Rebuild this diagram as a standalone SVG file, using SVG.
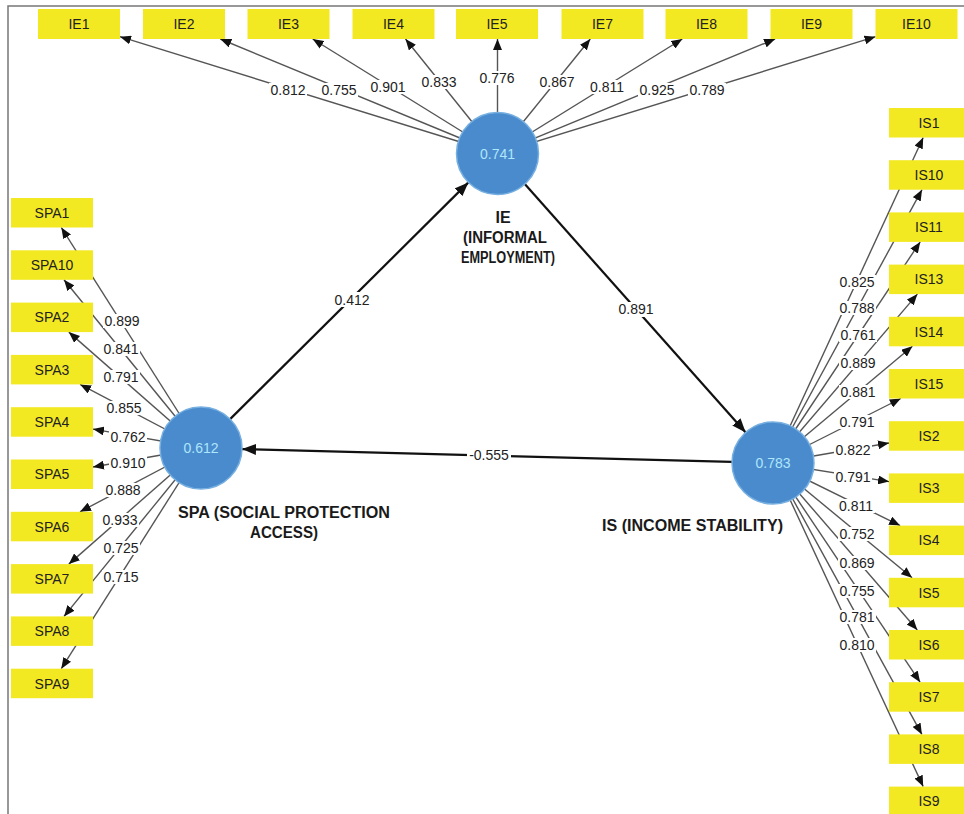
<svg xmlns="http://www.w3.org/2000/svg" width="964" height="814" viewBox="0 0 964 814">
<defs>
<marker id="ah" markerUnits="userSpaceOnUse" markerWidth="11" markerHeight="9" refX="11" refY="4.5" orient="auto"><path d="M0,0 L11,4.5 L0,9 z" fill="#111"/></marker>
<marker id="ahb" markerUnits="userSpaceOnUse" markerWidth="14" markerHeight="11" refX="14" refY="5.5" orient="auto"><path d="M0,0 L14,5.5 L0,11 z" fill="#111"/></marker>
<style>
.ld{stroke:#555;stroke-width:1.4;fill:none;marker-end:url(#ah)}
.st{stroke:#111;stroke-width:2.2;fill:none;marker-end:url(#ahb)}
.lb rect{fill:#fff}
.lb text,.bx text{font-family:"Liberation Sans",Arial,sans-serif;font-size:14px;fill:#222;text-anchor:middle}
.bx rect{fill:#f3e923}
.lv circle{fill:#4a8bcd;stroke:#76afe0;stroke-width:1.5}
.lv text.v{font-family:"Liberation Sans",Arial,sans-serif;font-size:14px;fill:#aee6fb;text-anchor:middle}
.lv text.n{font-family:"Liberation Sans",Arial,sans-serif;font-size:16px;font-weight:bold;fill:#1a1a1a;text-anchor:middle}
</style>
</defs>
<rect width="964" height="814" fill="#fff"/>
<path d="M8,814 L8,6 L964,6" fill="none" stroke="#777" stroke-width="1.5"/>

<g id="connectors">
<line class="ld" x1="497.5" y1="153.5" x2="120" y2="36.7"/>
<line class="ld" x1="497.5" y1="153.5" x2="220.3" y2="39"/>
<line class="ld" x1="497.5" y1="153.5" x2="312.7" y2="39"/>
<line class="ld" x1="497.5" y1="153.5" x2="405.5" y2="39"/>
<line class="ld" x1="497.5" y1="153.5" x2="497.5" y2="39"/>
<line class="ld" x1="497.5" y1="153.5" x2="590.3" y2="39"/>
<line class="ld" x1="497.5" y1="153.5" x2="682.3" y2="39"/>
<line class="ld" x1="497.5" y1="153.5" x2="775.1" y2="39"/>
<line class="ld" x1="497.5" y1="153.5" x2="875.5" y2="36.7"/>
<line class="ld" x1="201" y1="448" x2="61.3" y2="227.5"/>
<line class="ld" x1="201" y1="448" x2="64" y2="279.8"/>
<line class="ld" x1="201" y1="448" x2="68.8" y2="332.1"/>
<line class="ld" x1="201" y1="448" x2="80.1" y2="384.4"/>
<line class="ld" x1="201" y1="448" x2="93" y2="429.1"/>
<line class="ld" x1="201" y1="448" x2="93" y2="467"/>
<line class="ld" x1="201" y1="448" x2="80" y2="511.8"/>
<line class="ld" x1="201" y1="448" x2="68.8" y2="564.1"/>
<line class="ld" x1="201" y1="448" x2="64" y2="616.4"/>
<line class="ld" x1="201" y1="448" x2="61.3" y2="668.7"/>
<line class="ld" x1="773" y1="463" x2="923.2" y2="137.5"/>
<line class="ld" x1="773" y1="463" x2="922" y2="189.7"/>
<line class="ld" x1="773" y1="463" x2="920.2" y2="241.9"/>
<line class="ld" x1="773" y1="463" x2="917.4" y2="294.1"/>
<line class="ld" x1="773" y1="463" x2="912.4" y2="346.3"/>
<line class="ld" x1="773" y1="463" x2="900.8" y2="398.5"/>
<line class="ld" x1="773" y1="463" x2="889" y2="443"/>
<line class="ld" x1="773" y1="463" x2="889" y2="481.6"/>
<line class="ld" x1="773" y1="463" x2="900.1" y2="525.6"/>
<line class="ld" x1="773" y1="463" x2="912.1" y2="577.8"/>
<line class="ld" x1="773" y1="463" x2="917.3" y2="630"/>
<line class="ld" x1="773" y1="463" x2="920.1" y2="682.2"/>
<line class="ld" x1="773" y1="463" x2="921.9" y2="734.4"/>
<line class="ld" x1="773" y1="463" x2="923.2" y2="786.6"/>
<line class="st" x1="230.1" y1="419.1" x2="468.4" y2="182.4"/>
<line class="st" x1="524.8" y1="184.1" x2="745.7" y2="432.4"/>
<line class="st" x1="732" y1="461.9" x2="242" y2="449.1"/>

<g class="lb">
<rect x="269" y="83" width="38" height="14"/><text x="288" y="95">0.812</text>
<rect x="320" y="83" width="38" height="14"/><text x="339" y="95">0.755</text>
<rect x="369" y="80" width="38" height="14"/><text x="388" y="92">0.901</text>
<rect x="420" y="75" width="38" height="14"/><text x="439" y="87">0.833</text>
<rect x="478" y="71" width="38" height="14"/><text x="497" y="83">0.776</text>
<rect x="538" y="75" width="38" height="14"/><text x="557" y="87">0.867</text>
<rect x="588" y="80" width="38" height="14"/><text x="607" y="92">0.811</text>
<rect x="638" y="83" width="38" height="14"/><text x="657" y="95">0.925</text>
<rect x="688" y="83" width="38" height="14"/><text x="707" y="95">0.789</text>

<rect x="103" y="314" width="38" height="14"/><text x="122" y="326">0.899</text>
<rect x="102" y="342" width="38" height="14"/><text x="121" y="354">0.841</text>
<rect x="102" y="370" width="38" height="14"/><text x="121" y="382">0.791</text>
<rect x="105" y="401" width="38" height="14"/><text x="124" y="413">0.855</text>
<rect x="109" y="430" width="38" height="14"/><text x="128" y="442">0.762</text>
<rect x="109" y="456" width="38" height="14"/><text x="128" y="468">0.910</text>
<rect x="104" y="483" width="38" height="14"/><text x="123" y="495">0.888</text>
<rect x="101" y="513" width="38" height="14"/><text x="120" y="525">0.933</text>
<rect x="102" y="541" width="38" height="14"/><text x="121" y="553">0.725</text>
<rect x="102" y="570" width="38" height="14"/><text x="121" y="582">0.715</text>

<rect x="838" y="275" width="38" height="14"/><text x="857" y="287">0.825</text>
<rect x="838" y="301" width="38" height="14"/><text x="857" y="313">0.788</text>
<rect x="839" y="328" width="38" height="14"/><text x="858" y="340">0.761</text>
<rect x="839" y="356" width="38" height="14"/><text x="858" y="368">0.889</text>
<rect x="839" y="385" width="38" height="14"/><text x="858" y="397">0.881</text>
<rect x="838" y="415" width="38" height="14"/><text x="857" y="427">0.791</text>
<rect x="834" y="443" width="38" height="14"/><text x="853" y="455">0.822</text>
<rect x="834" y="470" width="38" height="14"/><text x="853" y="482">0.791</text>
<rect x="837" y="499" width="38" height="14"/><text x="856" y="511">0.811</text>
<rect x="838" y="527" width="38" height="14"/><text x="857" y="539">0.752</text>
<rect x="838" y="556" width="38" height="14"/><text x="857" y="568">0.869</text>
<rect x="838" y="584" width="38" height="14"/><text x="857" y="596">0.755</text>
<rect x="838" y="610" width="38" height="14"/><text x="857" y="622">0.781</text>
<rect x="838" y="638" width="38" height="14"/><text x="857" y="650">0.810</text>

<rect x="333" y="292" width="38" height="15"/><text x="352" y="305">0.412</text>
<rect x="617" y="302" width="38" height="15"/><text x="636" y="314">0.891</text>
<rect x="467" y="448" width="44" height="15"/><text x="489" y="460">-0.555</text>
</g>
</g>

<g id="IE1" class="bx"><rect x="38" y="9" width="82" height="30"/><text x="79" y="29">IE1</text></g>
<g id="IE2" class="bx"><rect x="143" y="9" width="82" height="30"/><text x="184" y="29">IE2</text></g>
<g id="IE3" class="bx"><rect x="247.5" y="9" width="82" height="30"/><text x="288.5" y="29">IE3</text></g>
<g id="IE4" class="bx"><rect x="352.5" y="9" width="82" height="30"/><text x="393.5" y="29">IE4</text></g>
<g id="IE5" class="bx"><rect x="456" y="9" width="82" height="30"/><text x="497" y="29">IE5</text></g>
<g id="IE7" class="bx"><rect x="561.5" y="9" width="82" height="30"/><text x="602.5" y="29">IE7</text></g>
<g id="IE8" class="bx"><rect x="665.5" y="9" width="82" height="30"/><text x="706.5" y="29">IE8</text></g>
<g id="IE9" class="bx"><rect x="770.5" y="9" width="82" height="30"/><text x="811.5" y="29">IE9</text></g>
<g id="IE10" class="bx"><rect x="875.5" y="9" width="82" height="30"/><text x="916.5" y="29">IE10</text></g>

<g id="SPA1" class="bx"><rect x="11" y="198" width="82" height="29.5"/><text x="52" y="217.8">SPA1</text></g>
<g id="SPA10" class="bx"><rect x="11" y="250.3" width="82" height="29.5"/><text x="52" y="270.1">SPA10</text></g>
<g id="SPA2" class="bx"><rect x="11" y="302.6" width="82" height="29.5"/><text x="52" y="322.4">SPA2</text></g>
<g id="SPA3" class="bx"><rect x="11" y="354.9" width="82" height="29.5"/><text x="52" y="374.7">SPA3</text></g>
<g id="SPA4" class="bx"><rect x="11" y="407.2" width="82" height="29.5"/><text x="52" y="427">SPA4</text></g>
<g id="SPA5" class="bx"><rect x="11" y="459.5" width="82" height="29.5"/><text x="52" y="479.3">SPA5</text></g>
<g id="SPA6" class="bx"><rect x="11" y="511.8" width="82" height="29.5"/><text x="52" y="531.6">SPA6</text></g>
<g id="SPA7" class="bx"><rect x="11" y="564.1" width="82" height="29.5"/><text x="52" y="583.9">SPA7</text></g>
<g id="SPA8" class="bx"><rect x="11" y="616.4" width="82" height="29.5"/><text x="52" y="636.2">SPA8</text></g>
<g id="SPA9" class="bx"><rect x="11" y="668.7" width="82" height="29.5"/><text x="52" y="688.5">SPA9</text></g>

<g id="IS1" class="bx"><rect x="889" y="108" width="82" height="29.5"/><text x="929" y="127.8">IS1</text></g>
<g id="IS10" class="bx"><rect x="889" y="160.2" width="82" height="29.5"/><text x="929" y="180">IS10</text></g>
<g id="IS11" class="bx"><rect x="889" y="212.4" width="82" height="29.5"/><text x="929" y="232.2">IS11</text></g>
<g id="IS13" class="bx"><rect x="889" y="264.6" width="82" height="29.5"/><text x="929" y="284.4">IS13</text></g>
<g id="IS14" class="bx"><rect x="889" y="316.8" width="82" height="29.5"/><text x="929" y="336.6">IS14</text></g>
<g id="IS15" class="bx"><rect x="889" y="369" width="82" height="29.5"/><text x="929" y="388.8">IS15</text></g>
<g id="IS2" class="bx"><rect x="889" y="421.2" width="82" height="29.5"/><text x="929" y="441">IS2</text></g>
<g id="IS3" class="bx"><rect x="889" y="473.4" width="82" height="29.5"/><text x="929" y="493.2">IS3</text></g>
<g id="IS4" class="bx"><rect x="889" y="525.6" width="82" height="29.5"/><text x="929" y="545.4">IS4</text></g>
<g id="IS5" class="bx"><rect x="889" y="577.8" width="82" height="29.5"/><text x="929" y="597.6">IS5</text></g>
<g id="IS6" class="bx"><rect x="889" y="630" width="82" height="29.5"/><text x="929" y="649.8">IS6</text></g>
<g id="IS7" class="bx"><rect x="889" y="682.2" width="82" height="29.5"/><text x="929" y="702">IS7</text></g>
<g id="IS8" class="bx"><rect x="889" y="734.4" width="82" height="29.5"/><text x="929" y="754.2">IS8</text></g>
<g id="IS9" class="bx"><rect x="889" y="786.6" width="82" height="29.5"/><text x="929" y="806.4">IS9</text></g>

<g id="IE" class="lv">
<circle cx="497.5" cy="153.5" r="41"/>
<text class="v" x="497.5" y="158.5">0.741</text>
<text class="n" x="503" y="223" font-size="15">IE</text>
<text class="n" x="505" y="243" font-size="15" textLength="84" lengthAdjust="spacingAndGlyphs">(INFORMAL</text>
<text class="n" x="508" y="263" font-size="15" textLength="94" lengthAdjust="spacingAndGlyphs">EMPLOYMENT)</text>
</g>
<g id="SPA" class="lv">
<circle cx="201" cy="448" r="41"/>
<text class="v" x="201" y="453">0.612</text>
<text class="n" x="284" y="518" font-size="17" textLength="212" lengthAdjust="spacingAndGlyphs">SPA (SOCIAL PROTECTION</text>
<text class="n" x="284" y="538" font-size="17" textLength="68" lengthAdjust="spacingAndGlyphs">ACCESS)</text>
</g>
<g id="IS" class="lv">
<circle cx="773" cy="463" r="41"/>
<text class="v" x="773" y="468">0.783</text>
<text class="n" x="692.5" y="531" font-size="17" textLength="181" lengthAdjust="spacingAndGlyphs">IS (INCOME STABILITY)</text>
</g>
</svg>
